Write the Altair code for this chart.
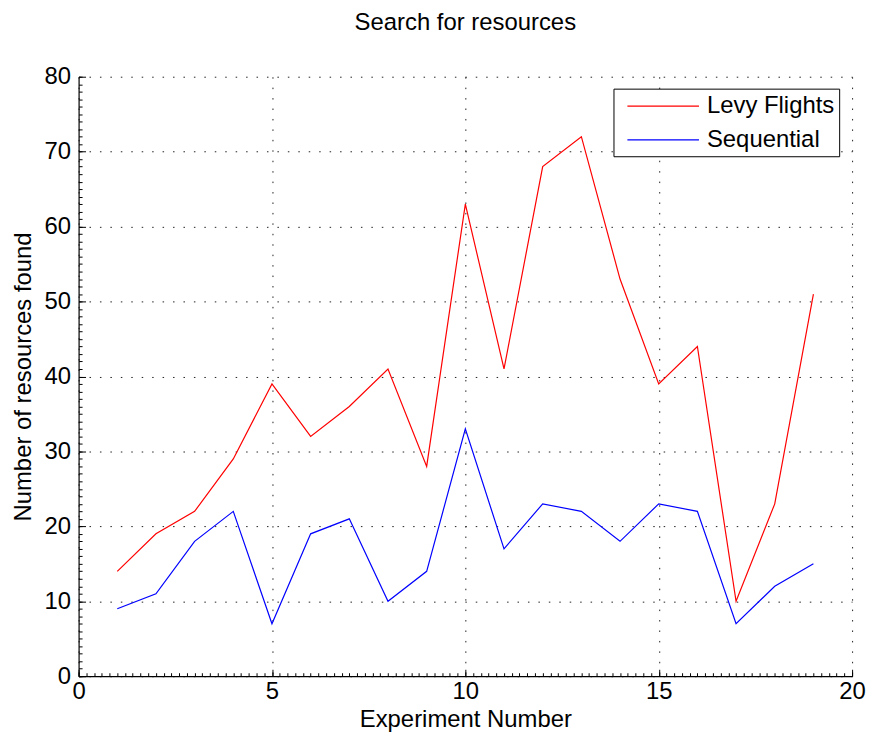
import altair as alt
import pandas as pd

FONT = "Liberation Sans"
FS = 24

experiments = [1, 2, 3, 4, 5, 6, 7, 8, 9, 10, 11, 12, 13, 14, 15, 16, 17, 18, 19]
levy_flights = [14, 19, 22, 29, 39, 32, 36, 41, 28, 63, 41, 68, 72, 53, 39, 44, 10, 23, 51]
sequential = [9, 11, 18, 22, 7, 19, 21, 10, 14, 33, 17, 23, 22, 18, 23, 22, 7, 12, 15]

series_names = ["Levy Flights", "Sequential"]
series_colors = ["#ff0000", "#0000ff"]

x_major = [0, 5, 10, 15, 20]
y_major = [0, 10, 20, 30, 40, 50, 60, 70, 80]
x_minor = [round(i * 0.2, 1) for i in range(0, 101)]
y_minor = [i for i in range(0, 81)]

rows = []
for e, v in zip(experiments, levy_flights):
    rows.append({"Experiment": e, "Resources": v, "Series": series_names[0]})
for e, v in zip(experiments, sequential):
    rows.append({"Experiment": e, "Resources": v, "Series": series_names[1]})
df = pd.DataFrame(rows)

xscale = alt.Scale(domain=[0, 20], nice=False, zero=False)
yscale = alt.Scale(domain=[0, 80], nice=False, zero=False)

GRID = dict(grid=True, gridDash=[1.5, 9], gridColor="#222222", gridWidth=1)

main = alt.Chart(df).mark_line(strokeWidth=1.2).encode(
    x=alt.X(
        "Experiment:Q",
        scale=xscale,
        axis=alt.Axis(
            values=x_major, orient="bottom", format="d",
            title="Experiment Number", titleFont=FONT, titleFontSize=FS,
            titleFontWeight="normal", titleColor="black",
            titleX=389, titleY=44, titleBaseline="middle", titleAlign="center",
            labelFont=FONT, labelFontSize=FS, labelColor="black",
            labelPadding=3, labelFlush=False,
            ticks=False, tickSize=0,
            domain=True, domainColor="black", domainWidth=1.2,
            **GRID,
        ),
    ),
    y=alt.Y(
        "Resources:Q",
        scale=yscale,
        axis=alt.Axis(
            values=y_major, orient="left", format="d",
            title="Number of resources found", titleFont=FONT, titleFontSize=FS,
            titleFontWeight="normal", titleColor="black",
            titleX=-55, titleY=301.5, titleBaseline="middle", titleAlign="center",
            titleAngle=270,
            labelFont=FONT, labelFontSize=FS, labelColor="black",
            labelPadding=8, labelFlush=False,
            ticks=False, tickSize=0,
            domain=True, domainColor="black", domainWidth=1.2,
            **GRID,
        ),
    ),
    color=alt.Color(
        "Series:N",
        sort=series_names,
        scale=alt.Scale(domain=series_names, range=series_colors),
        legend=alt.Legend(
            title=None, orient="none", legendX=538, legendY=12,
            symbolType="M-3,0H3", symbolSize=576, symbolStrokeWidth=1.2,
            symbolOffset=32.5, labelOffset=31,
            labelFont=FONT, labelFontSize=FS, labelColor="black",
            padding=4.5, rowPadding=9,
            strokeColor="black", fillColor="white",
        ),
    ),
)


def tick_axis(values, orient, size):
    return alt.Axis(
        values=values, orient=orient, labels=False, domain=False, grid=False,
        title="", ticks=True, tickSize=size, offset=-size,
        tickColor="black", tickWidth=1,
    )


def x_ticks(values, size):
    return alt.Chart(df).mark_line(strokeOpacity=0).encode(
        x=alt.X("Experiment:Q", scale=xscale, axis=tick_axis(values, "bottom", size)),
        y=alt.Y("Resources:Q", scale=yscale, axis=None),
    )


def y_ticks(values, size):
    return alt.Chart(df).mark_line(strokeOpacity=0).encode(
        x=alt.X("Experiment:Q", scale=xscale, axis=None),
        y=alt.Y("Resources:Q", scale=yscale, axis=tick_axis(values, "left", size)),
    )


chart = alt.layer(
    main,
    x_ticks(x_minor, 3.5),
    x_ticks(x_major, 7),
    y_ticks(y_minor, 3.5),
    y_ticks(y_major, 7),
).resolve_axis(
    x="independent", y="independent"
).properties(
    width=778,
    height=603,
    autosize=alt.AutoSizeParams(type="none"),
    padding={"left": 71, "top": 67, "right": 15, "bottom": 56},
    background="white",
    title=alt.TitleParams(
        "Search for resources", font=FONT, fontSize=FS, fontWeight="normal",
        color="black", anchor="middle", offset=30,
    ),
).configure_view(strokeWidth=0)

chart.save("out.html", embed_options={"renderer": "svg", "actions": False})
